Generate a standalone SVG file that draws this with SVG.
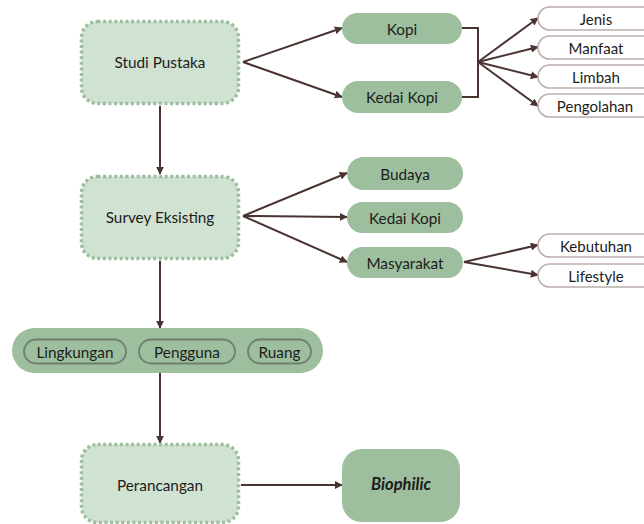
<svg xmlns="http://www.w3.org/2000/svg" width="644" height="524" viewBox="0 0 644 524">
<defs>
<marker id="ah" viewBox="0 0 10 10" refX="9" refY="5" markerWidth="8" markerHeight="8" markerUnits="userSpaceOnUse" orient="auto">
<path d="M0,0 L10,5 L0,10 Z" fill="#4a3431"/>
</marker>
<style>
.main{fill:#d0e2d2;stroke:#9dbf9e;stroke-width:3.5;stroke-dasharray:3 2.6}
.pill{fill:#9dbf9e}
.sub{fill:#ffffff;stroke:#bcaeaa;stroke-width:1.6}
.inner{fill:#9dbf9e;stroke:#6f7f6b;stroke-width:1.8}
.t{font-family:"Lato","Noto Sans",sans-serif;font-size:15.3px;fill:#1c1c1c;text-anchor:middle;dominant-baseline:central}
.ts{font-size:15px}
.bio{font-weight:bold;font-style:italic;font-size:16.5px}
.c{stroke:#4a3431;stroke-width:2;fill:none}
</style>
</defs>
<rect width="644" height="524" fill="#ffffff"/>

<g id="connectors">
<line class="c" x1="160" y1="106" x2="160" y2="174" marker-end="url(#ah)"/>
<line class="c" x1="160" y1="261" x2="160" y2="328" marker-end="url(#ah)"/>
<line class="c" x1="160" y1="373" x2="160" y2="443" marker-end="url(#ah)"/>
<line class="c" x1="243" y1="62" x2="342" y2="28" marker-end="url(#ah)"/>
<line class="c" x1="243" y1="62" x2="342" y2="97" marker-end="url(#ah)"/>
<polyline class="c" points="462,28 478,28 478,97 462,97"/>
<line class="c" x1="478" y1="62" x2="538" y2="18" marker-end="url(#ah)"/>
<line class="c" x1="478" y1="62" x2="538" y2="47" marker-end="url(#ah)"/>
<line class="c" x1="478" y1="62" x2="538" y2="77" marker-end="url(#ah)"/>
<line class="c" x1="478" y1="62" x2="538" y2="106" marker-end="url(#ah)"/>
<line class="c" x1="243" y1="216" x2="347" y2="173" marker-end="url(#ah)"/>
<line class="c" x1="243" y1="216" x2="347" y2="217" marker-end="url(#ah)"/>
<line class="c" x1="243" y1="216" x2="347" y2="262" marker-end="url(#ah)"/>
<line class="c" x1="464" y1="262" x2="538" y2="245" marker-end="url(#ah)"/>
<line class="c" x1="464" y1="262" x2="538" y2="275" marker-end="url(#ah)"/>
<line class="c" x1="241" y1="485" x2="342" y2="485" marker-end="url(#ah)"/>
</g>

<g id="studi-pustaka">
<rect class="main" x="81.5" y="21.5" width="157" height="82" rx="16"/>
<text class="t" x="160" y="62">Studi Pustaka</text>
</g>
<g id="kopi">
<rect class="pill" x="342" y="13" width="120" height="31" rx="15.5"/>
<text class="t" x="402" y="28.5">Kopi</text>
</g>
<g id="kedai-kopi-1">
<rect class="pill" x="342" y="81" width="120" height="32" rx="16"/>
<text class="t" x="402" y="97">Kedai Kopi</text>
</g>
<g id="jenis">
<rect class="sub" x="538" y="7" width="120" height="23" rx="11.5"/>
<text class="t ts" x="596" y="18.5">Jenis</text>
</g>
<g id="manfaat">
<rect class="sub" x="538" y="36" width="120" height="23" rx="11.5"/>
<text class="t ts" x="596" y="47.5">Manfaat</text>
</g>
<g id="limbah">
<rect class="sub" x="538" y="65" width="120" height="23" rx="11.5"/>
<text class="t ts" x="596" y="76.5">Limbah</text>
</g>
<g id="pengolahan">
<rect class="sub" x="538" y="94" width="120" height="23" rx="11.5"/>
<text class="t ts" x="595" y="105.5">Pengolahan</text>
</g>

<g id="survey-eksisting">
<rect class="main" x="81.5" y="176.5" width="157" height="82" rx="16"/>
<text class="t" x="160" y="217">Survey Eksisting</text>
</g>
<g id="budaya">
<rect class="pill" x="347" y="157" width="116" height="33" rx="16.5"/>
<text class="t" x="405" y="173.5">Budaya</text>
</g>
<g id="kedai-kopi-2">
<rect class="pill" x="347" y="202" width="116" height="31" rx="15.5"/>
<text class="t" x="405" y="217.5">Kedai Kopi</text>
</g>
<g id="masyarakat">
<rect class="pill" x="347" y="247" width="116" height="31" rx="15.5"/>
<text class="t" x="405" y="262.5">Masyarakat</text>
</g>
<g id="kebutuhan">
<rect class="sub" x="538" y="234" width="120" height="23" rx="11.5"/>
<text class="t ts" x="596" y="245.5">Kebutuhan</text>
</g>
<g id="lifestyle">
<rect class="sub" x="538" y="264" width="120" height="23" rx="11.5"/>
<text class="t ts" x="596" y="275.5">Lifestyle</text>
</g>

<g id="aspek">
<rect class="pill" x="12" y="328" width="311" height="45" rx="22.5"/>
<rect class="inner" x="24" y="339.5" width="102" height="24" rx="12"/>
<text class="t" x="75" y="351.5">Lingkungan</text>
<rect class="inner" x="139" y="339.5" width="96" height="24" rx="12"/>
<text class="t" x="187" y="351.5">Pengguna</text>
<rect class="inner" x="248" y="339.5" width="63" height="24" rx="12"/>
<text class="t" x="279.5" y="351.5">Ruang</text>
</g>

<g id="perancangan">
<rect class="main" x="81.5" y="444.5" width="157" height="78" rx="16"/>
<text class="t" x="160" y="485">Perancangan</text>
</g>
<g id="biophilic">
<rect class="pill" x="342" y="449" width="118" height="73" rx="20"/>
<text class="t bio" x="401" y="484">Biophilic</text>
</g>
</svg>
